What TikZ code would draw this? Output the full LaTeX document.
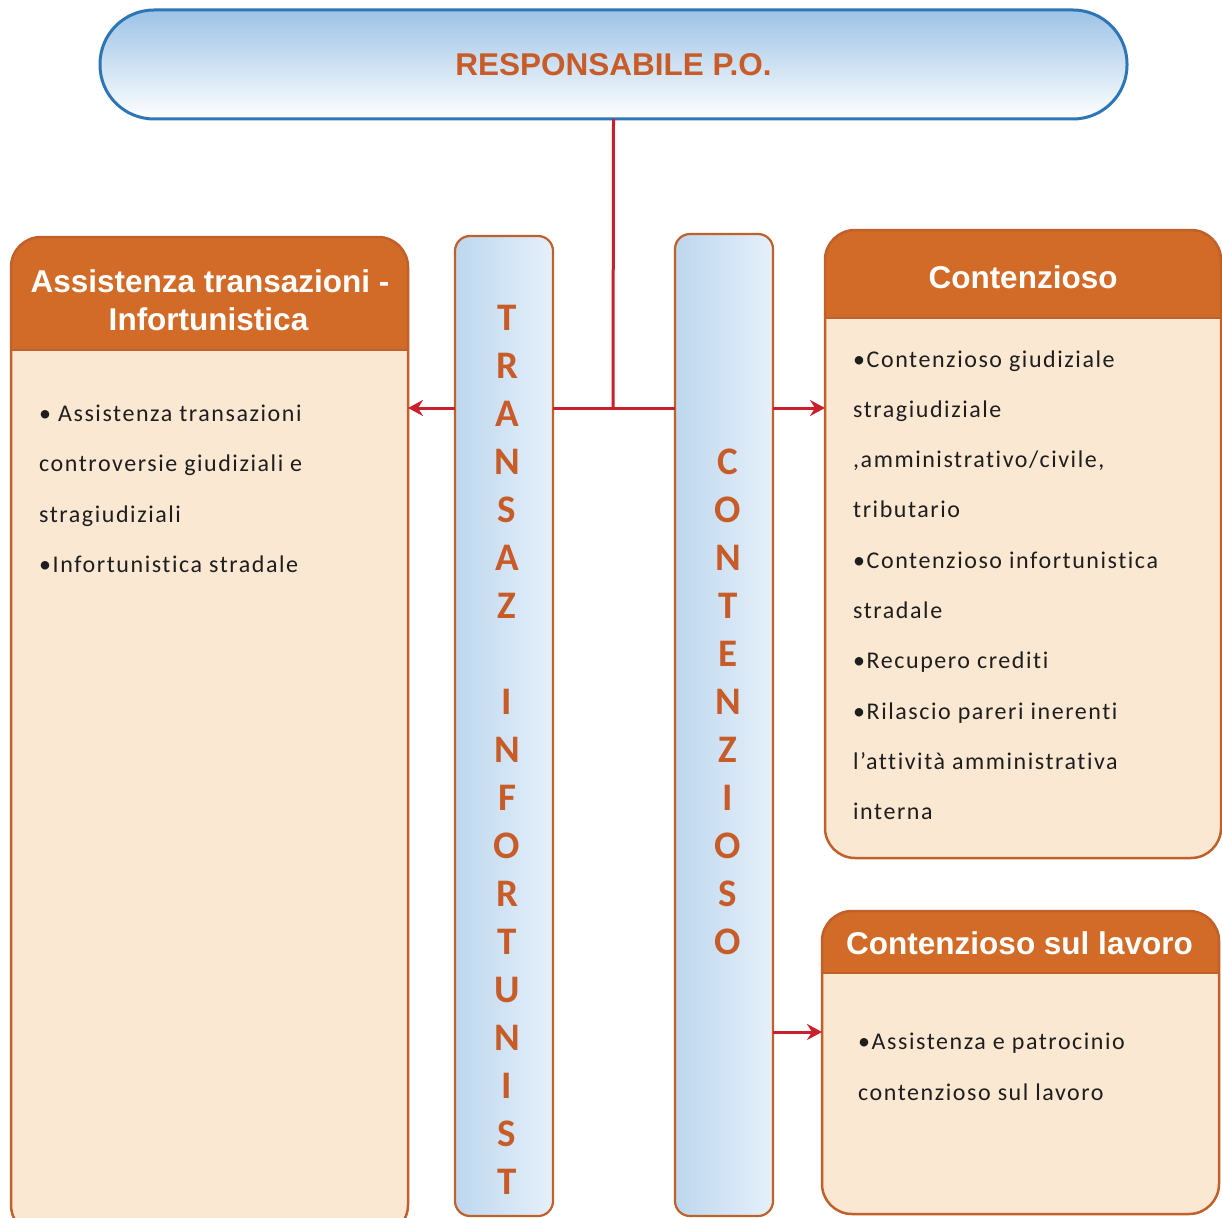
\documentclass[tikz,border=0pt]{standalone}
\usepackage{fontspec}
\usetikzlibrary{arrows.meta}

\newfontfamily\hdrfont{Liberation Sans}
\newfontfamily\bodyfont{Carlito}[LetterSpace=6.5, Ligatures=NoCommon]
\newfontfamily\barfont{Carlito}

\definecolor{pillline}{RGB}{46,117,182}
\definecolor{pilltop}{RGB}{157,195,230}
\definecolor{orangetext}{RGB}{200,92,40}
\definecolor{hdrfill}{RGB}{210,107,39}
\definecolor{bodyfill}{RGB}{251,232,210}
\definecolor{boxline}{RGB}{192,96,42}
\definecolor{barleft}{RGB}{189,215,238}
\definecolor{barright}{RGB}{230,240,250}
\definecolor{connred}{RGB}{200,32,44}
\definecolor{bodytext}{RGB}{30,30,30}

\tikzset{
  pill/.style={draw=pillline, line width=3pt, top color=pilltop, bottom color=white,
    rounded corners=54pt, minimum width=1027pt, minimum height=109pt,
    outer sep=0pt, inner sep=0pt, text=orangetext,
    font=\hdrfont\bfseries\fontsize{31.5}{36}\selectfont},
  bar/.style={draw=boxline, line width=2.2pt, left color=barleft, right color=barright,
    rounded corners=15pt, minimum width=98pt, outer sep=0pt, inner sep=0pt},
  boxbody/.style={fill=bodyfill, rounded corners=30pt, outer sep=0pt, inner sep=0pt},
  boxedge/.style={draw=boxline, line width=2.5pt, rounded corners=30pt},
  hdrsep/.style={draw=boxline, line width=2.5pt},
  hdrtext/.style={font=\hdrfont\bfseries\fontsize{31.5}{36}\selectfont, text=white,
    anchor=base, inner sep=0pt},
  barletter/.style={font=\barfont\bfseries\fontsize{39}{44}\selectfont, text=orangetext,
    inner sep=0pt},
  item/.style={font=\bodyfont\fontsize{24}{30}\selectfont, text=bodytext,
    anchor=base west, inner sep=0pt},
  conn/.style={draw=connred, line width=3pt},
  arr/.style={conn, -{Stealth[length=15pt, width=16pt, inset=5pt]}},
}

\begin{document}
\begin{tikzpicture}[x=1pt, y=-1pt]
\useasboundingbox (0,0) rectangle (1222,1217);
\clip (0,0) rectangle (1222,1217);
\fill[white] (0,0) rectangle (1222,1217);

% head of the office
\node[pill] (top) at (613.5,64.5) {RESPONSABILE P.O.};

% the two vertical bars
\node[bar, minimum height=980pt] (barT) at (504,726) {};
\node[bar, minimum height=982pt] (barC) at (724,725) {};

\foreach \ch/\k in {T/0,R/1,A/2,N/3,S/4,A/5,Z/6,I/8,N/9,F/10,O/11,R/12,T/13,U/14,N/15,I/16,S/17,T/18}
  \node[barletter] (tl\k) at (507,{318+48*\k}) {\ch};
\foreach \ch/\k in {C/0,O/1,N/2,T/3,E/4,N/5,Z/6,I/7,O/8,S/9,O/10}
  \node[barletter] (cl\k) at (728,{462+48*\k}) {\ch};

% left box: Assistenza transazioni - Infortunistica
\node[boxbody, minimum width=397pt, minimum height=998pt] (boxL) at (209.5,736) {};
\begin{scope}
  \clip[rounded corners=30pt] (boxL.north west) rectangle (boxL.south east);
  \fill[hdrfill] (boxL.north west) rectangle (boxL.east |- 0,350);
\end{scope}
\draw[hdrsep] (boxL.west |- 0,350) -- (boxL.east |- 0,350);
\draw[boxedge] (boxL.north west) rectangle (boxL.south east);
\node[hdrtext] (hL1) at (210,292) {Assistenza transazioni -};
\node[hdrtext] (hL2) at (208.5,330) {Infortunistica};
\node[item] (iL1) at (39,421) {• Assistenza transazioni};
\node[item] (iL2) at (39,471.6) {controversie giudiziali e};
\node[item] (iL3) at (39,522.2) {stragiudiziali};
\node[item] (iL4) at (39,572.8) {•Infortunistica stradale};

% right box: Contenzioso
\node[boxbody, minimum width=396pt, minimum height=628pt] (boxC) at (1023,544) {};
\begin{scope}
  \clip[rounded corners=30pt] (boxC.north west) rectangle (boxC.south east);
  \fill[hdrfill] (boxC.north west) rectangle (boxC.east |- 0,318);
\end{scope}
\draw[hdrsep] (boxC.west |- 0,318) -- (boxC.east |- 0,318);
\draw[boxedge] (boxC.north west) rectangle (boxC.south east);
\node[hdrtext] (hC) at (1023,288) {Contenzioso};
\node[item] (iC1) at (853,367) {•Contenzioso giudiziale};
\node[item] (iC2) at (853,417.3) {stragiudiziale};
\node[item] (iC3) at (853,467.6) {,amministrativo/civile,};
\node[item] (iC4) at (853,517.9) {tributario};
\node[item] (iC5) at (853,568.2) {•Contenzioso infortunistica};
\node[item] (iC6) at (853,618.5) {stradale};
\node[item] (iC7) at (853,668.8) {•Recupero crediti};
\node[item] (iC8) at (853,719.1) {•Rilascio pareri inerenti};
\node[item] (iC9) at (853,769.4) {l’attività amministrativa};
\node[item] (iC10) at (853,819.7) {interna};

% right box: Contenzioso sul lavoro
\node[boxbody, minimum width=397pt, minimum height=303pt] (boxW) at (1020.5,1062.5) {};
\begin{scope}
  \clip[rounded corners=30pt] (boxW.north west) rectangle (boxW.south east);
  \fill[hdrfill] (boxW.north west) rectangle (boxW.east |- 0,973);
\end{scope}
\draw[hdrsep] (boxW.west |- 0,973) -- (boxW.east |- 0,973);
\draw[boxedge] (boxW.north west) rectangle (boxW.south east);
\node[hdrtext] (hW) at (1019.5,954) {Contenzioso sul lavoro};
\node[item] (iW1) at (858,1049) {•Assistenza e patrocinio};
\node[item] (iW2) at (858,1100) {contenzioso sul lavoro};

% connectors
\coordinate (jn) at (613,408);
\coordinate (jl) at (773,1032);
\draw[conn] (top.south) -- (jn);
\draw[conn] (barT.east |- jn) -- (barC.west |- jn);
\draw[arr] (barT.west |- jn) -- (boxL.east |- jn);
\draw[arr] (barC.east |- jn) -- (boxC.west |- jn);
\draw[arr] (barC.east |- jl) -- (boxW.west |- jl);
\end{tikzpicture}
\end{document}
